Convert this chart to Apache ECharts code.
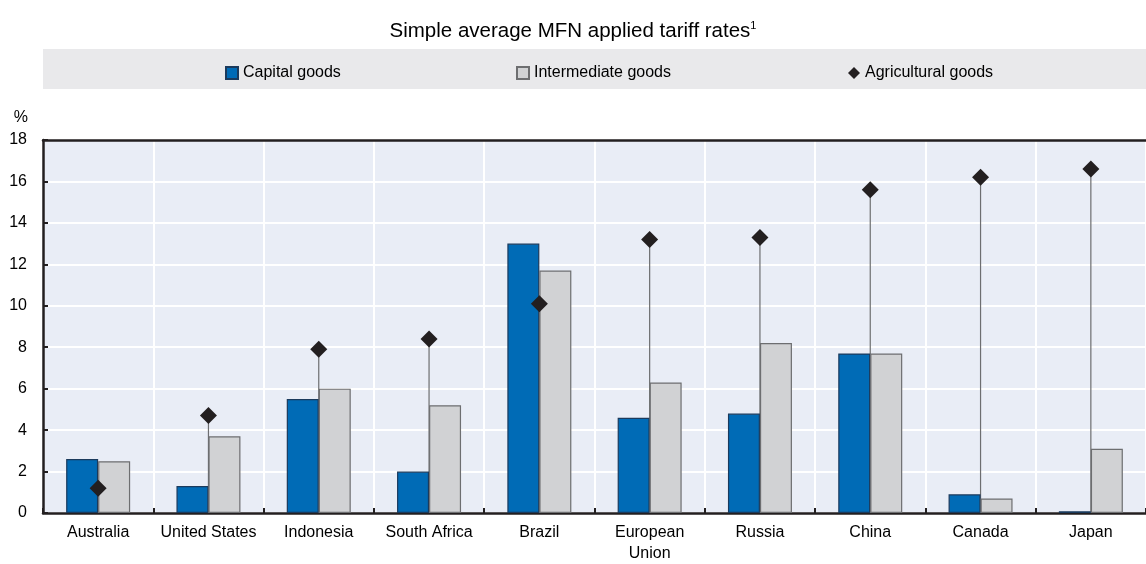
<!DOCTYPE html>
<html><head><meta charset="utf-8">
<script src="https://cdn.jsdelivr.net/npm/echarts@6/dist/echarts.min.js"></script>
<style>html,body{margin:0;padding:0;background:#fff}#c{width:1146px;height:564px}</style>
</head><body><div id="c"></div>
<script>
const categories = ['Australia','United States','Indonesia','South Africa','Brazil','European\nUnion','Russia','China','Canada','Japan'];
const capitalGoods = [2.6,1.3,5.5,2.0,13.0,4.6,4.8,7.7,0.9,0.08];
const intermediateGoods = [2.5,3.7,6.0,5.2,11.7,6.3,8.2,7.7,0.7,3.1];
const agriculturalGoods = [1.2,4.7,7.9,8.4,10.1,13.2,13.3,15.6,16.2,16.6];
const yTicks = [0,2,4,6,8,10,12,14,16,18];

const FONT = "'Liberation Sans',Arial,sans-serif";
const chart = echarts.init(document.getElementById('c'), null, {renderer:'canvas'});
const legendText = {fontFamily:FONT, fontSize:16, color:'#000'};
chart.setOption({
  animation:false,
  title:{text:'Simple average MFN applied tariff rates{s|1}', left:'center', top:15,
    textStyle:{fontFamily:FONT, fontSize:20.5, fontWeight:'normal', color:'#000',
      rich:{s:{fontFamily:FONT, fontSize:11, verticalAlign:'top', padding:[0,0,12,0], color:'#000'}}}},
  graphic:[{type:'rect', left:43, top:49, shape:{width:1103, height:40}, style:{fill:'#e9e9eb'}, z:-1}],
  legend:[
    {data:[{name:'Capital goods', icon:'rect'}], left:220, top:60, itemWidth:12, itemHeight:12, itemGap:4, textStyle:legendText},
    {data:[{name:'Intermediate goods', icon:'rect'}], left:511, top:60, itemWidth:12, itemHeight:12, textStyle:legendText},
    {data:['Agricultural goods'], left:843, top:60, itemWidth:12, itemHeight:12, textStyle:legendText}
  ],
  grid:{left:43, right:0, top:140, bottom:46, show:true, backgroundColor:'#e9edf6', borderWidth:0},
  xAxis:[{type:'category', data:categories,
    axisLine:{lineStyle:{color:'#231f20', width:2.5}},
    axisTick:{show:true, inside:true, length:5, lineStyle:{color:'#231f20', width:2}},
    splitLine:{show:true, lineStyle:{color:'#ffffff', width:2}},
    axisLabel:{fontFamily:FONT, fontSize:16, color:'#000', margin:9, lineHeight:21, interval:0}},
    {type:'category', data:categories, position:'top', axisLine:{show:true, lineStyle:{color:'#231f20', width:2.5}},
     axisTick:{show:false}, axisLabel:{show:false}, splitLine:{show:false}}],
  yAxis:{type:'value', min:0, max:18, interval:2, name:'%', nameLocation:'end', nameGap:14,
    nameTextStyle:{fontFamily:FONT, fontSize:16, color:'#000', align:'right', padding:[0,15,0,0]},
    axisLine:{show:true, lineStyle:{color:'#231f20', width:2.5}},
    axisTick:{show:true, inside:true, length:5, lineStyle:{color:'#231f20', width:2}},
    splitLine:{lineStyle:{color:'#ffffff', width:2}},
    axisLabel:{fontFamily:FONT, fontSize:16, color:'#000', margin:16}},
  series:[
    {name:'stem', type:'custom', z:1, silent:true,
      data: agriculturalGoods.map((v,i)=>[i,v]),
      renderItem:(params, api)=>{
        const p0 = api.coord([api.value(0),0]);
        const p1 = api.coord([api.value(0),api.value(1)]);
        return {type:'line', shape:{x1:p0[0],y1:p0[1],x2:p1[0],y2:p1[1]}, style:{stroke:'#6d6e70', lineWidth:1.2}};
      }},
    {name:'Capital goods', type:'bar', data:capitalGoods, z:2, barWidth:32, barGap:'0%',
      itemStyle:{color:'#006bb6', borderColor:'#1b3a5c', borderWidth:1.2}},
    {name:'Intermediate goods', type:'bar', data:intermediateGoods, z:2, barWidth:32, barGap:'0%',
      itemStyle:{color:'#d1d2d4', borderColor:'#6d6e70', borderWidth:1.2}},
    {name:'Agricultural goods', type:'scatter', data:agriculturalGoods, z:3, symbol:'diamond', symbolSize:[17,17],
      itemStyle:{color:'#231f20', opacity:1}}
  ]
});
</script></body></html>
